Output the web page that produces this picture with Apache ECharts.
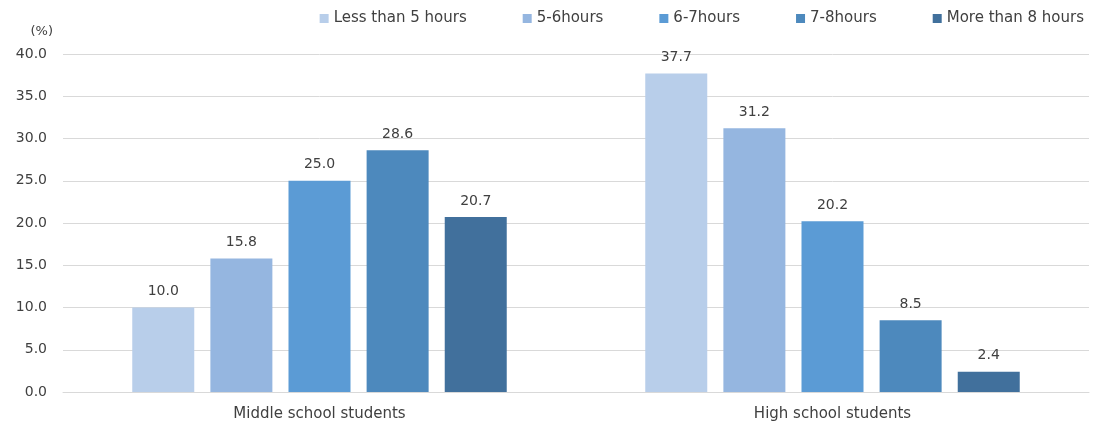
<!DOCTYPE html>
<html><head><meta charset="utf-8">
<script src="https://cdn.jsdelivr.net/npm/echarts@6/dist/echarts.min.js"></script>
<style>html,body{margin:0;padding:0;background:#fff;}#c{width:1097px;height:430px;}</style>
</head><body><div id="c"></div>
<script>
var categories = ["Middle school students", "High school students"];
var seriesNames = ["Less than 5 hours", "5-6hours", "6-7hours", "7-8hours", "More than 8 hours"];
var lessThan5 = [10.0, 37.7];
var h5to6 = [15.8, 31.2];
var h6to7 = [25.0, 20.2];
var h7to8 = [28.6, 8.5];
var moreThan8 = [20.7, 2.4];
var colors = ["#B8CEEA", "#95B6E0", "#5B9BD5", "#4D89BD", "#41709C"];
var values = [lessThan5, h5to6, h6to7, h7to8, moreThan8];

var chart = echarts.init(document.getElementById('c'));
var font = "'DejaVu Sans', 'Noto Sans', sans-serif";
chart.setOption({
  animation: false,
  textStyle: {fontFamily: font},
  legend: {
    top: 6, right: 8, itemWidth: 9, itemHeight: 9, itemGap: 56,
    icon: 'rect',
    textStyle: {fontSize: 15, color: '#404040', fontFamily: font},
    data: seriesNames
  },
  grid: {left: 63, right: 8, top: 54, bottom: 38, containLabel: false},
  xAxis: {
    type: 'category', data: categories,
    axisLine: {lineStyle: {color: '#d9d9d9'}},
    axisTick: {show: false},
    axisLabel: {fontSize: 15, color: '#404040', margin: 15}
  },
  yAxis: {
    type: 'value', min: 0, max: 40, interval: 5,
    name: '(%)', nameLocation: 'end', nameGap: 16,
    nameTextStyle: {fontSize: 13, color: '#404040', align: 'right', padding: [0, 10, 0, 0]},
    axisLine: {show: false}, axisTick: {show: false},
    splitLine: {lineStyle: {color: '#d9d9d9'}},
    axisLabel: {fontSize: 14, color: '#404040', margin: 16, formatter: function(v){return v.toFixed(1);}}
  },
  series: seriesNames.map(function(n, i){
    return {
      name: n, type: 'bar', data: values[i],
      barWidth: 62, barGap: '26%',
      itemStyle: {color: colors[i]},
      label: {show: true, position: 'top', distance: 9, fontSize: 14, color: '#404040',
        formatter: function(p){return p.value.toFixed(1);}}
    };
  })
});
</script></body></html>
